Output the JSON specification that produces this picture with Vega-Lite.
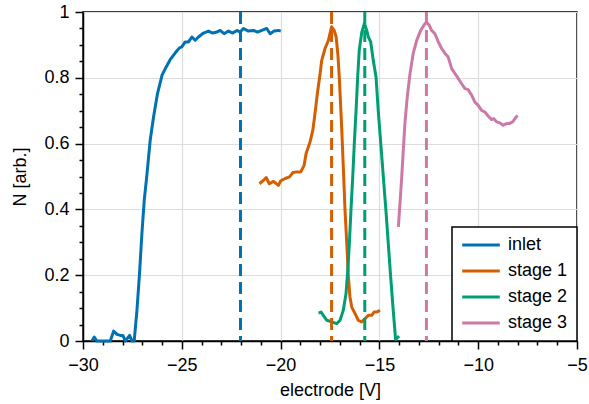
{
  "$schema": "https://vega.github.io/schema/vega-lite/v6.json",
  "width": 494,
  "height": 329,
  "autosize": {"type": "none"},
  "padding": {"left": 83, "top": 12, "right": 12, "bottom": 63},
  "background": "white",
  "config": {
    "font": "Liberation Sans",
    "view": {"stroke": "black", "strokeWidth": 1.5},
    "axis": {
      "labelFont": "Liberation Sans",
      "titleFont": "Liberation Sans",
      "labelFontSize": 18,
      "titleFontSize": 18,
      "titleFontWeight": "normal",
      "labelColor": "black",
      "titleColor": "black",
      "domainColor": "black",
      "domainWidth": 1.5,
      "tickColor": "black",
      "tickWidth": 1.5,
      "gridColor": "#dddddd",
      "gridWidth": 1.2,
      "labelFlush": false,
      "labelOverlap": false
    },
    "legend": {
      "labelFont": "Liberation Sans",
      "labelFontSize": 18,
      "labelColor": "black",
      "strokeColor": "black",
      "strokeWidth": 1.5,
      "fillColor": "white",
      "padding": 9,
      "cornerRadius": 0,
      "symbolType": "M-3,0H3",
      "symbolSize": 157,
      "symbolStrokeWidth": 3,
      "symbolOffset": 11,
      "labelOffset": 18,
      "rowPadding": 8,
      "orient": "bottom-right",
      "offset": 0
    }
  },
  "datasets": {
    "curves": [
      {"series": "inlet", "x": -29.55, "N": 0.0},
      {"series": "inlet", "x": -29.43, "N": 0.012},
      {"series": "inlet", "x": -29.3, "N": 0.0},
      {"series": "inlet", "x": -28.62, "N": 0.0},
      {"series": "inlet", "x": -28.45, "N": 0.03},
      {"series": "inlet", "x": -28.28, "N": 0.02},
      {"series": "inlet", "x": -28.11, "N": 0.017},
      {"series": "inlet", "x": -27.98, "N": 0.017},
      {"series": "inlet", "x": -27.86, "N": 0.0},
      {"series": "inlet", "x": -27.64, "N": 0.017},
      {"series": "inlet", "x": -27.52, "N": 0.0},
      {"series": "inlet", "x": -27.41, "N": 0.0},
      {"series": "inlet", "x": -27.27, "N": 0.093},
      {"series": "inlet", "x": -27.14, "N": 0.205},
      {"series": "inlet", "x": -27.02, "N": 0.326},
      {"series": "inlet", "x": -26.9, "N": 0.428},
      {"series": "inlet", "x": -26.76, "N": 0.509},
      {"series": "inlet", "x": -26.6, "N": 0.61},
      {"series": "inlet", "x": -26.43, "N": 0.681},
      {"series": "inlet", "x": -26.23, "N": 0.752},
      {"series": "inlet", "x": -26.0, "N": 0.808},
      {"series": "inlet", "x": -25.79, "N": 0.833},
      {"series": "inlet", "x": -25.59, "N": 0.855},
      {"series": "inlet", "x": -25.33, "N": 0.876},
      {"series": "inlet", "x": -25.12, "N": 0.891},
      {"series": "inlet", "x": -25.0, "N": 0.894},
      {"series": "inlet", "x": -24.83, "N": 0.909},
      {"series": "inlet", "x": -24.66, "N": 0.909},
      {"series": "inlet", "x": -24.49, "N": 0.924},
      {"series": "inlet", "x": -24.32, "N": 0.914},
      {"series": "inlet", "x": -24.16, "N": 0.924},
      {"series": "inlet", "x": -23.9, "N": 0.936},
      {"series": "inlet", "x": -23.65, "N": 0.942},
      {"series": "inlet", "x": -23.43, "N": 0.936},
      {"series": "inlet", "x": -23.23, "N": 0.939},
      {"series": "inlet", "x": -23.06, "N": 0.944},
      {"series": "inlet", "x": -22.86, "N": 0.934},
      {"series": "inlet", "x": -22.64, "N": 0.942},
      {"series": "inlet", "x": -22.42, "N": 0.936},
      {"series": "inlet", "x": -22.21, "N": 0.944},
      {"series": "inlet", "x": -22.05, "N": 0.939},
      {"series": "inlet", "x": -21.88, "N": 0.95},
      {"series": "inlet", "x": -21.63, "N": 0.942},
      {"series": "inlet", "x": -21.37, "N": 0.944},
      {"series": "inlet", "x": -21.17, "N": 0.939},
      {"series": "inlet", "x": -20.95, "N": 0.944},
      {"series": "inlet", "x": -20.7, "N": 0.95},
      {"series": "inlet", "x": -20.53, "N": 0.934},
      {"series": "inlet", "x": -20.33, "N": 0.942},
      {"series": "inlet", "x": -20.11, "N": 0.944},
      {"series": "inlet", "x": -19.99, "N": 0.942},
      {"series": "stage 1", "x": -21.07, "N": 0.478},
      {"series": "stage 1", "x": -20.87, "N": 0.488},
      {"series": "stage 1", "x": -20.73, "N": 0.497},
      {"series": "stage 1", "x": -20.57, "N": 0.478},
      {"series": "stage 1", "x": -20.36, "N": 0.485},
      {"series": "stage 1", "x": -20.11, "N": 0.473},
      {"series": "stage 1", "x": -19.99, "N": 0.487},
      {"series": "stage 1", "x": -19.77, "N": 0.494},
      {"series": "stage 1", "x": -19.55, "N": 0.499},
      {"series": "stage 1", "x": -19.38, "N": 0.512},
      {"series": "stage 1", "x": -19.18, "N": 0.514},
      {"series": "stage 1", "x": -18.98, "N": 0.514},
      {"series": "stage 1", "x": -18.81, "N": 0.534},
      {"series": "stage 1", "x": -18.71, "N": 0.57},
      {"series": "stage 1", "x": -18.51, "N": 0.605},
      {"series": "stage 1", "x": -18.37, "N": 0.64},
      {"series": "stage 1", "x": -18.26, "N": 0.691},
      {"series": "stage 1", "x": -18.14, "N": 0.752},
      {"series": "stage 1", "x": -18.0, "N": 0.813},
      {"series": "stage 1", "x": -17.92, "N": 0.853},
      {"series": "stage 1", "x": -17.75, "N": 0.889},
      {"series": "stage 1", "x": -17.58, "N": 0.914},
      {"series": "stage 1", "x": -17.42, "N": 0.955},
      {"series": "stage 1", "x": -17.29, "N": 0.944},
      {"series": "stage 1", "x": -17.19, "N": 0.925},
      {"series": "stage 1", "x": -17.1, "N": 0.87},
      {"series": "stage 1", "x": -17.03, "N": 0.802},
      {"series": "stage 1", "x": -16.91, "N": 0.65},
      {"series": "stage 1", "x": -16.82, "N": 0.519},
      {"series": "stage 1", "x": -16.74, "N": 0.397},
      {"series": "stage 1", "x": -16.65, "N": 0.296},
      {"series": "stage 1", "x": -16.57, "N": 0.195},
      {"series": "stage 1", "x": -16.49, "N": 0.134},
      {"series": "stage 1", "x": -16.4, "N": 0.103},
      {"series": "stage 1", "x": -16.23, "N": 0.083},
      {"series": "stage 1", "x": -16.07, "N": 0.063},
      {"series": "stage 1", "x": -15.9, "N": 0.058},
      {"series": "stage 1", "x": -15.73, "N": 0.068},
      {"series": "stage 1", "x": -15.56, "N": 0.078},
      {"series": "stage 1", "x": -15.39, "N": 0.078},
      {"series": "stage 1", "x": -15.27, "N": 0.088},
      {"series": "stage 1", "x": -15.14, "N": 0.088},
      {"series": "stage 1", "x": -14.97, "N": 0.093},
      {"series": "stage 2", "x": -18.08, "N": 0.085},
      {"series": "stage 2", "x": -17.95, "N": 0.088},
      {"series": "stage 2", "x": -17.84, "N": 0.078},
      {"series": "stage 2", "x": -17.66, "N": 0.063},
      {"series": "stage 2", "x": -17.41, "N": 0.058},
      {"series": "stage 2", "x": -17.16, "N": 0.053},
      {"series": "stage 2", "x": -16.99, "N": 0.063},
      {"series": "stage 2", "x": -16.83, "N": 0.093},
      {"series": "stage 2", "x": -16.69, "N": 0.144},
      {"series": "stage 2", "x": -16.6, "N": 0.215},
      {"series": "stage 2", "x": -16.52, "N": 0.296},
      {"series": "stage 2", "x": -16.44, "N": 0.397},
      {"series": "stage 2", "x": -16.35, "N": 0.498},
      {"series": "stage 2", "x": -16.27, "N": 0.6},
      {"series": "stage 2", "x": -16.18, "N": 0.701},
      {"series": "stage 2", "x": -16.1, "N": 0.802},
      {"series": "stage 2", "x": -16.02, "N": 0.884},
      {"series": "stage 2", "x": -15.89, "N": 0.939},
      {"series": "stage 2", "x": -15.76, "N": 0.965},
      {"series": "stage 2", "x": -15.64, "N": 0.944},
      {"series": "stage 2", "x": -15.56, "N": 0.924},
      {"series": "stage 2", "x": -15.44, "N": 0.909},
      {"series": "stage 2", "x": -15.31, "N": 0.853},
      {"series": "stage 2", "x": -15.17, "N": 0.802},
      {"series": "stage 2", "x": -15.06, "N": 0.701},
      {"series": "stage 2", "x": -14.93, "N": 0.6},
      {"series": "stage 2", "x": -14.8, "N": 0.498},
      {"series": "stage 2", "x": -14.67, "N": 0.397},
      {"series": "stage 2", "x": -14.55, "N": 0.296},
      {"series": "stage 2", "x": -14.43, "N": 0.195},
      {"series": "stage 2", "x": -14.3, "N": 0.093},
      {"series": "stage 2", "x": -14.18, "N": 0.005},
      {"series": "stage 2", "x": -14.0, "N": 0.015},
      {"series": "stage 3", "x": -14.04, "N": 0.347},
      {"series": "stage 3", "x": -13.96, "N": 0.418},
      {"series": "stage 3", "x": -13.87, "N": 0.498},
      {"series": "stage 3", "x": -13.79, "N": 0.58},
      {"series": "stage 3", "x": -13.71, "N": 0.661},
      {"series": "stage 3", "x": -13.59, "N": 0.742},
      {"series": "stage 3", "x": -13.45, "N": 0.813},
      {"series": "stage 3", "x": -13.29, "N": 0.874},
      {"series": "stage 3", "x": -13.11, "N": 0.914},
      {"series": "stage 3", "x": -12.91, "N": 0.944},
      {"series": "stage 3", "x": -12.69, "N": 0.965},
      {"series": "stage 3", "x": -12.58, "N": 0.967},
      {"series": "stage 3", "x": -12.48, "N": 0.96},
      {"series": "stage 3", "x": -12.36, "N": 0.944},
      {"series": "stage 3", "x": -12.19, "N": 0.934},
      {"series": "stage 3", "x": -12.02, "N": 0.909},
      {"series": "stage 3", "x": -11.85, "N": 0.889},
      {"series": "stage 3", "x": -11.68, "N": 0.874},
      {"series": "stage 3", "x": -11.52, "N": 0.863},
      {"series": "stage 3", "x": -11.34, "N": 0.828},
      {"series": "stage 3", "x": -11.18, "N": 0.813},
      {"series": "stage 3", "x": -11.01, "N": 0.798},
      {"series": "stage 3", "x": -10.84, "N": 0.782},
      {"series": "stage 3", "x": -10.67, "N": 0.767},
      {"series": "stage 3", "x": -10.51, "N": 0.764},
      {"series": "stage 3", "x": -10.33, "N": 0.747},
      {"series": "stage 3", "x": -10.17, "N": 0.726},
      {"series": "stage 3", "x": -10.0, "N": 0.716},
      {"series": "stage 3", "x": -9.83, "N": 0.701},
      {"series": "stage 3", "x": -9.66, "N": 0.696},
      {"series": "stage 3", "x": -9.49, "N": 0.683},
      {"series": "stage 3", "x": -9.32, "N": 0.673},
      {"series": "stage 3", "x": -9.21, "N": 0.676},
      {"series": "stage 3", "x": -9.07, "N": 0.666},
      {"series": "stage 3", "x": -8.9, "N": 0.663},
      {"series": "stage 3", "x": -8.74, "N": 0.656},
      {"series": "stage 3", "x": -8.56, "N": 0.661},
      {"series": "stage 3", "x": -8.43, "N": 0.661},
      {"series": "stage 3", "x": -8.26, "N": 0.666},
      {"series": "stage 3", "x": -8.14, "N": 0.676},
      {"series": "stage 3", "x": -8.01, "N": 0.686}
    ],
    "peaks": [
      {"series": "inlet", "x": -22.03},
      {"series": "stage 1", "x": -17.42},
      {"series": "stage 2", "x": -15.74},
      {"series": "stage 3", "x": -12.62}
    ]
  },
  "encoding": {
    "x": {
      "field": "x", "type": "quantitative",
      "scale": {"domain": [-30, -5], "nice": false, "zero": false},
      "axis": {
        "title": "electrode [V]",
        "values": [-30,-29,-28,-27,-26,-25,-24,-23,-22,-21,-20,-19,-18,-17,-16,-15,-14,-13,-12,-11,-10,-9,-8,-7,-6,-5],
        "labelExpr": "abs(round(datum.value)) % 5 == 0 ? format(datum.value, '~g') : ''",
        "tickSize": {"condition": {"test": "abs(round(datum.value)) % 5 == 0", "value": 8}, "value": 4},
        "gridOpacity": {"condition": {"test": "abs(round(datum.value)) % 5 == 0", "value": 1}, "value": 0},
        "labelPadding": 7,
        "titlePadding": 7
      }
    }
  },
  "layer": [
    {
      "data": {"name": "curves"},
      "mark": {"type": "line", "strokeWidth": 3, "strokeJoin": "round"},
      "encoding": {
        "y": {
          "field": "N", "type": "quantitative",
          "scale": {"domain": [0, 1], "nice": false},
          "axis": {
            "title": "N [arb.]",
            "values": [0,0.05,0.1,0.15,0.2,0.25,0.3,0.35,0.4,0.45,0.5,0.55,0.6,0.65,0.7,0.75,0.8,0.85,0.9,0.95,1],
            "labelExpr": "round(datum.value*20) % 4 == 0 ? format(datum.value, '~g') : ''",
            "tickSize": {"condition": {"test": "round(datum.value*20) % 4 == 0", "value": 8}, "value": 4},
            "gridOpacity": {"condition": {"test": "round(datum.value*20) % 4 == 0", "value": 1}, "value": 0},
            "labelPadding": 6,
            "titlePadding": 14
          }
        },
        "color": {
          "field": "series", "type": "nominal",
          "scale": {"domain": ["inlet", "stage 1", "stage 2", "stage 3"], "range": ["#0072B2", "#D55E00", "#009E73", "#CC79A7"]},
          "legend": {"title": null}
        }
      }
    },
    {
      "data": {"name": "peaks"},
      "mark": {"type": "rule", "strokeWidth": 3, "strokeDash": [12, 6]},
      "encoding": {
        "stroke": {
          "field": "series", "type": "nominal",
          "scale": {"domain": ["inlet", "stage 1", "stage 2", "stage 3"], "range": ["#0072B2", "#D55E00", "#009E73", "#CC79A7"]},
          "legend": null
        }
      }
    }
  ]
}
